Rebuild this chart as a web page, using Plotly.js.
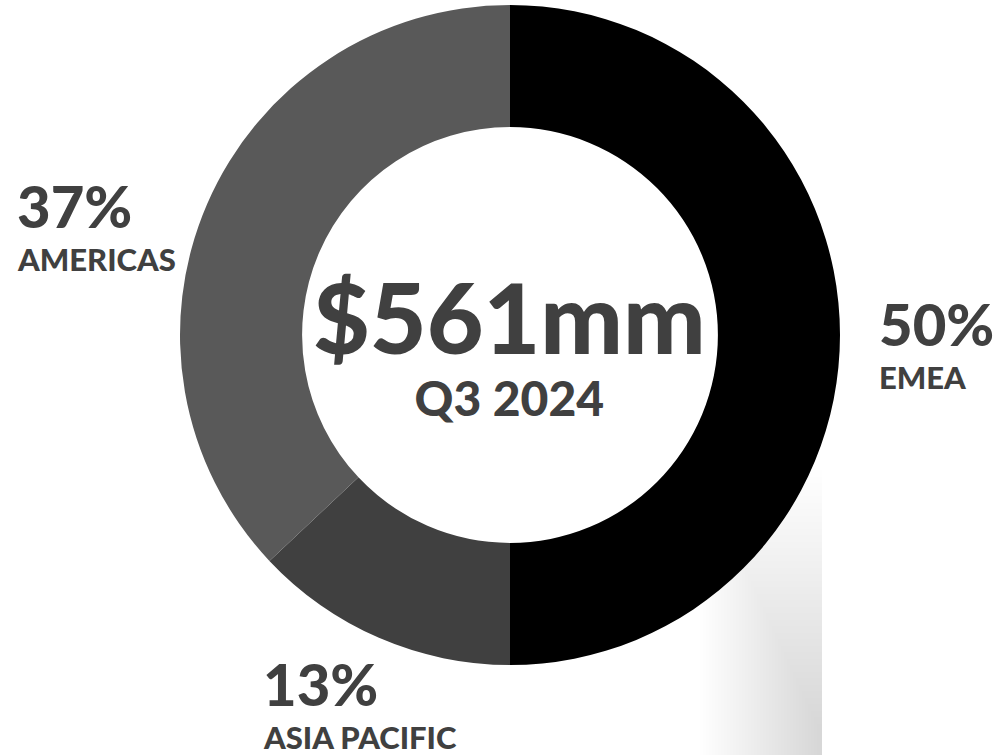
<!DOCTYPE html>
<html>
<head>
<meta charset="utf-8">
<script src="https://cdn.plot.ly/plotly-3.0.1.min.js"></script>
<style>html,body{margin:0;padding:0;background:#fff;}#chart{width:1000px;height:755px;}</style>
</head>
<body>
<div id="chart"></div>
<script>
const regions = ["EMEA", "ASIA PACIFIC", "AMERICAS"];
const shares = [50, 13, 37];
const percentLabels = ["50%", "13%", "37%"];
const sliceColors = ["#000000", "#404040", "#595959"];
const totalLabel = "$561mm";
const periodLabel = "Q3 2024";

const W = 1000, H = 755;
const px = x => x / W;
const py = y => 1 - y / H;
const txt = "#404040";
const fontFam = "Lato, 'Open Sans', sans-serif";

// label positions (pixels) for [EMEA, ASIA PACIFIC, AMERICAS]
const labelPos = [
  {x: 877, yp: 324, yl: 377},
  {x: 261, yp: 683, yl: 737},
  {x: 15, yp: 205, yl: 259}
];

const annotations = [];
regions.forEach((r, i) => {
  annotations.push({xref: "paper", yref: "paper", x: px(labelPos[i].x), y: py(labelPos[i].yp),
    xanchor: "left", yanchor: "middle", showarrow: false, text: percentLabels[i],
    font: {family: fontFam, size: 58, color: txt, weight: 900}});
  annotations.push({xref: "paper", yref: "paper", x: px(labelPos[i].x), y: py(labelPos[i].yl),
    xanchor: "left", yanchor: "middle", showarrow: false, text: r,
    font: {family: fontFam, size: 31, color: txt, weight: 900}});
});
annotations.push({xref: "paper", yref: "paper", x: px(509), y: py(341), xanchor: "center", yanchor: "middle",
  showarrow: false, align: "center",
  text: "<span style='font-size:98px'>" + totalLabel + "</span><br>" + periodLabel,
  font: {family: fontFam, size: 48, color: txt, weight: 900}});

const shapes = [];
const steps = 40;
for (let i = 0; i < steps; i++) {
  shapes.push({type: "rect", xref: "paper", yref: "paper", layer: "below",
    x0: px(700 + i * 3), x1: px(822), y0: py(755), y1: py(470 + i * 6.5),
    line: {width: 0}, fillcolor: "rgba(0,0,0,0.0055)"});
}

const data = [{
  type: "pie",
  labels: regions,
  values: shares,
  hole: 0.63,
  sort: false,
  direction: "clockwise",
  rotation: 0,
  textinfo: "none",
  hoverinfo: "label+percent",
  marker: {colors: sliceColors, line: {width: 0}},
  domain: {x: [0.18, 0.84], y: [py(665), py(5)]},
  showlegend: false
}];

const layout = {
  width: W, height: H,
  margin: {l: 0, r: 0, t: 0, b: 0},
  paper_bgcolor: "#ffffff",
  plot_bgcolor: "#ffffff",
  showlegend: false,
  annotations: annotations,
  shapes: shapes
};

Plotly.newPlot("chart", data, layout, {displayModeBar: false, staticPlot: true});
</script>
</body>
</html>
